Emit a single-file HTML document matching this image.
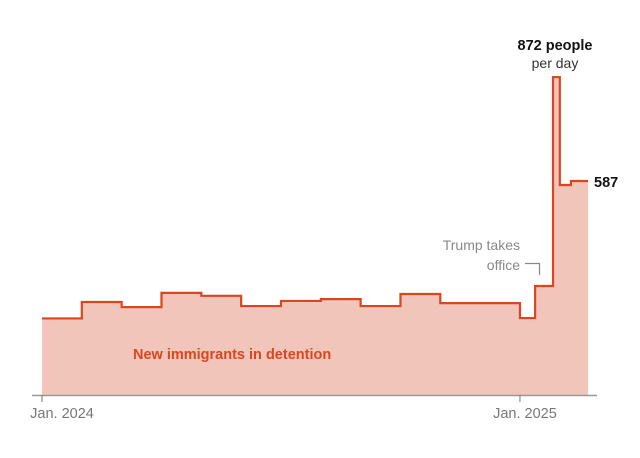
<!DOCTYPE html>
<html><head><meta charset="utf-8"><style>
html,body{margin:0;padding:0;background:#fff;}
svg{display:block;font-family:"Liberation Sans",sans-serif;}
</style></head><body>
<svg id="chart" width="640" height="458">
<g id="plot"></g>
<line x1="32" x2="597" y1="395.5" y2="395.5" stroke="#999" stroke-width="1.5"/>
<g id="ticks"></g>
<text x="133" y="359" fill="#d9461f" font-size="14.5" font-weight="bold">New immigrants in detention</text>
<text x="555" y="50" text-anchor="middle" font-size="14.5" font-weight="bold" fill="#121212">872 people</text>
<text x="555" y="68" text-anchor="middle" font-size="14" fill="#333">per day</text>
<text x="594" y="187" font-size="14.5" font-weight="bold" fill="#121212">587</text>
<text x="520" y="250" text-anchor="end" font-size="14" fill="#888">Trump takes</text>
<text x="520" y="270" text-anchor="end" font-size="14" fill="#888">office</text>
<path d="M525 263.5H539.5V275" fill="none" stroke="#888" stroke-width="1.2"/>
</svg>
<script>
const starts=[0,1,2,3,4,5,6,7,8,9,10,11,12,12.38,12.83,13.0,13.28];
const ends=[1,2,3,4,5,6,7,8,9,10,11,12,12.38,12.83,13.0,13.28,13.71];
const values=[210,255,241,280,272,244,258,263,244,277,252,252,211,299,872,576,587];
const tickPos=[0,12];
const tickLabels=["Jan. 2024","Jan. 2025"];
const x=m=>42+m*39.83;
const y=v=>395-v*0.3646;
const ns="http://www.w3.org/2000/svg";
const plot=document.getElementById('plot');
let d="M"+x(starts[0])+" "+y(0);
let line="";
for(let i=0;i<values.length;i++){
  d+=" L"+x(starts[i])+" "+y(values[i])+" L"+x(ends[i])+" "+y(values[i]);
  line+=(i?" L":"M")+x(starts[i])+" "+y(values[i])+" L"+x(ends[i])+" "+y(values[i]);
}
d+=" L"+x(ends[ends.length-1])+" "+y(0)+"Z";
const area=document.createElementNS(ns,'path');
area.setAttribute('d',d);area.setAttribute('fill','#f1c5ba');


plot.appendChild(area);
const ln=document.createElementNS(ns,'path');
ln.setAttribute('d',line);ln.setAttribute('fill','none');ln.setAttribute('stroke','#d9461f');ln.setAttribute('stroke-width','2.2');


plot.appendChild(ln);
const tg=document.getElementById('ticks');
tickPos.forEach((t,i)=>{
  const l=document.createElementNS(ns,'line');
  l.setAttribute('x1',x(t));l.setAttribute('x2',x(t));l.setAttribute('y1',395);l.setAttribute('y2',402);l.setAttribute('stroke','#777');
  
  
  tg.appendChild(l);
  const tx=document.createElementNS(ns,'text');
  tx.setAttribute('x',x(t)+(i==0?20:5));tx.setAttribute('y',418);tx.setAttribute('text-anchor','middle');
  tx.setAttribute('font-size','14.5');tx.setAttribute('fill','#777');tx.textContent=tickLabels[i];
  
  
  tg.appendChild(tx);
});
</script>
</body></html>
